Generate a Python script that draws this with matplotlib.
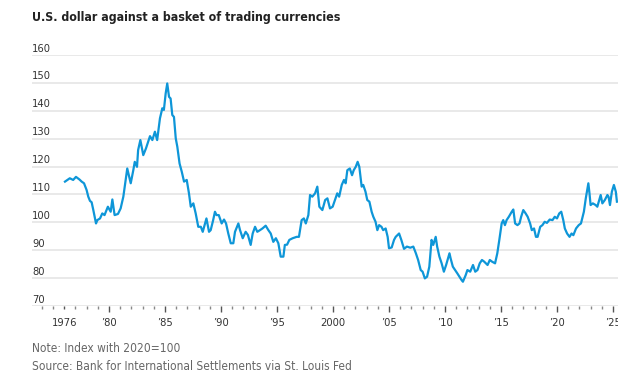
import matplotlib
matplotlib.use("Agg")
import matplotlib.pyplot as plt
from matplotlib.ticker import FixedLocator, MultipleLocator
from matplotlib import font_manager as fm

title = "U.S. dollar against a basket of trading currencies"
note = "Note: Index with 2020=100"
source = "Source: Bank for International Settlements via St. Louis Fed"

years = [
    1976.07, 1976.5, 1976.8, 1977.05, 1977.35, 1977.56, 1977.77, 1978.0, 1978.15, 1978.3,
    1978.45, 1978.6, 1978.84, 1978.96, 1979.2, 1979.4, 1979.6, 1979.9, 1980.15, 1980.3,
    1980.5, 1980.8, 1981.04, 1981.28, 1981.63, 1981.94, 1982.17, 1982.3, 1982.5, 1982.6,
    1982.8, 1983.06, 1983.3, 1983.66, 1983.87, 1984.1, 1984.3, 1984.55, 1984.76, 1984.9,
    1985.06, 1985.2, 1985.36, 1985.5, 1985.65, 1985.8, 1985.96, 1986.1, 1986.3, 1986.5,
    1986.7, 1986.94, 1987.14, 1987.3, 1987.53, 1987.74, 1987.97, 1988.2, 1988.37, 1988.57,
    1988.7, 1988.93, 1989.08, 1989.3, 1989.46, 1989.6, 1989.8, 1990.06, 1990.27, 1990.45,
    1990.65, 1990.87, 1991.1, 1991.25, 1991.55, 1991.7, 1991.94, 1992.2, 1992.4, 1992.65,
    1992.83, 1993.04, 1993.24, 1993.48, 1993.7, 1993.99, 1994.23, 1994.44, 1994.67, 1994.9,
    1995.12, 1995.33, 1995.57, 1995.7, 1995.9, 1996.1, 1996.4, 1996.76, 1996.96, 1997.2,
    1997.4, 1997.57, 1997.8, 1997.95, 1998.15, 1998.4, 1998.6, 1998.78, 1999.05, 1999.3,
    1999.5, 1999.73, 1999.97, 2000.18, 2000.38, 2000.55, 2000.78, 2000.98, 2001.13, 2001.28,
    2001.5, 2001.7, 2001.85, 2002.03, 2002.2, 2002.35, 2002.56, 2002.7, 2002.9, 2003.06,
    2003.25, 2003.45, 2003.6, 2003.8, 2003.96, 2004.12, 2004.33, 2004.48, 2004.7, 2004.88,
    2005.0, 2005.24, 2005.45, 2005.6, 2005.9, 2006.1, 2006.34, 2006.6, 2006.9, 2007.17,
    2007.4, 2007.6, 2007.83, 2008.0, 2008.2, 2008.4, 2008.6, 2008.8, 2008.95, 2009.17,
    2009.3, 2009.5, 2009.7, 2009.9, 2010.1, 2010.4, 2010.5, 2010.7, 2010.9, 2011.1,
    2011.48, 2011.6, 2011.85, 2012.0, 2012.25, 2012.5, 2012.7, 2012.9, 2013.1, 2013.3,
    2013.5, 2013.8, 2014.0, 2014.2, 2014.47, 2014.67, 2014.85, 2015.06, 2015.2, 2015.35,
    2015.5, 2015.7, 2015.96, 2016.1, 2016.26, 2016.47, 2016.65, 2016.8, 2016.99, 2017.2,
    2017.38, 2017.6, 2017.75, 2017.95, 2018.12, 2018.27, 2018.5, 2018.7, 2018.9, 2019.1,
    2019.35, 2019.6, 2019.8, 2020.0, 2020.2, 2020.38, 2020.56, 2020.7, 2020.9, 2021.12,
    2021.3, 2021.46, 2021.7, 2021.94, 2022.14, 2022.4, 2022.57, 2022.8, 2022.9, 2023.0,
    2023.2, 2023.45, 2023.6, 2023.9, 2024.05, 2024.27, 2024.5, 2024.6, 2024.73, 2024.9,
    2025.08, 2025.25, 2025.35,
]
index_values = [
    114.6, 115.8, 115.2, 116.3, 115.4, 114.6, 114.0, 111.6, 109.2, 107.7,
    107.2, 104.4, 99.6, 100.8, 101.4, 103.2, 102.6, 105.6, 103.8, 108.2,
    102.6, 103.0, 105.0, 109.2, 119.3, 114.0, 118.7, 121.7, 119.9, 125.9,
    129.5, 124.1, 126.5, 130.9, 129.5, 132.5, 129.5, 137.3, 140.9, 140.3,
    146.2, 149.8, 145.0, 144.4, 138.5, 137.8, 130.1, 127.1, 121.1, 118.1,
    114.6, 115.2, 110.4, 105.6, 106.8, 103.2, 98.4, 98.4, 96.6, 99.6,
    101.4, 96.6, 97.2, 100.8, 103.8, 102.6, 102.6, 99.6, 101.0, 99.6,
    96.0, 92.5, 92.5, 96.6, 99.6, 97.2, 94.3, 96.6, 95.5, 91.9,
    96.0, 98.4, 96.6, 97.2, 97.8, 98.8, 97.2, 96.0, 93.0, 94.3,
    92.5, 87.7, 87.7, 91.9, 92.0, 93.7, 94.3, 94.8, 94.8, 100.8,
    101.4, 99.6, 102.6, 109.8, 109.2, 110.4, 112.8, 105.6, 104.4, 108.0,
    108.6, 105.0, 105.6, 108.0, 110.4, 109.2, 113.4, 115.2, 114.0, 118.7,
    119.3, 116.9, 118.7, 119.9, 121.7, 119.9, 112.8, 113.4, 111.0, 108.0,
    107.4, 103.8, 102.0, 100.2, 97.2, 99.0, 98.4, 97.2, 97.8, 94.8,
    90.7, 91.0, 93.7, 94.8, 96.0, 93.7, 90.5, 91.3, 90.9, 91.3,
    88.9, 86.5, 82.9, 82.3, 79.9, 80.5, 84.1, 93.7, 91.9, 94.8,
    91.3, 87.7, 85.3, 82.3, 84.7, 88.9, 87.1, 84.1, 82.9, 81.7,
    79.3, 78.7, 81.1, 82.9, 82.3, 84.7, 82.3, 82.9, 85.3, 86.5,
    85.9, 84.7, 86.5, 85.9, 85.3, 88.9, 93.7, 99.6, 100.8, 99.0,
    100.8, 102.0, 103.8, 104.6, 99.6, 99.0, 99.6, 102.0, 104.4, 103.2,
    102.0, 99.6, 97.2, 97.8, 94.8, 94.8, 98.4, 99.0, 100.2, 99.8,
    101.0, 100.8, 102.0, 101.4, 103.2, 103.8, 100.8, 97.8, 96.0, 94.8,
    96.0, 95.4, 97.8, 99.0, 99.6, 103.8, 108.6, 114.0, 110.4, 106.2,
    106.8, 106.2, 105.6, 109.8, 106.8, 108.0, 109.8, 109.2, 106.2, 111.0,
    113.4, 111.0, 107.4,
]

y_ticks = [70, 80, 90, 100, 110, 120, 130, 140, 150, 160]
x_label_years = [1976, 1980, 1985, 1990, 1995, 2000, 2005, 2010, 2015, 2020, 2025]
x_labels = ["1976", "\u201980", "\u201985", "\u201990", "\u201995", "2000",
            "\u201905", "\u201910", "\u201915", "\u201920", "\u201925"]

# pick a condensed face if one exists, otherwise a narrow-ish family
names = {f.name for f in fm.fontManager.ttflist}
cond = [f for f in fm.fontManager.ttflist
        if f.name == "DejaVu Sans" and str(f.stretch) in ("condensed", "semi-condensed")]
if "Liberation Sans Narrow" in names:
    FONT, STRETCH, SCALE = ["Liberation Sans Narrow", "DejaVu Sans"], "normal", 1.08
elif cond:
    FONT, STRETCH, SCALE = ["DejaVu Sans", "DejaVu Sans"], "condensed", 1.0
else:
    FONT, STRETCH, SCALE = ["Roboto", "DejaVu Sans"], "normal", 0.93
plt.rcParams["font.family"] = FONT
plt.rcParams["font.stretch"] = STRETCH

TICK_FS = 8.0 * SCALE
TITLE_FS = 8.9 * SCALE
NOTE_FS = 8.55 * SCALE

W, H = 618, 381
fig = plt.figure(figsize=(W / 100, H / 100), dpi=100)
left, right, top_px, bot_px = 32, 618, 55, 306
ax = fig.add_axes([left / W, 1 - bot_px / H, (right - left) / W, (bot_px - top_px) / H])

ax.plot(years, index_values, color="#0e96d8", lw=1.6, solid_joinstyle="round", zorder=3)

ax.set_xlim(1976 - 32.2 / 11.2, 1976 + (618 - 64.2) / 11.2)
ax.set_ylim(70, 160)

for s in ax.spines.values():
    s.set_visible(False)

ax.set_yticks(y_ticks)
ax.yaxis.grid(True, color="#e3e3e3", lw=1.1)
ax.tick_params(axis="y", length=0, labelleft=False)
for v in y_ticks:
    ax.text(0, v + 0.5, str(v), transform=ax.get_yaxis_transform(), ha="left", va="bottom",
            fontsize=TICK_FS, color="#333333", fontstretch=STRETCH)

ax.xaxis.set_major_locator(FixedLocator(x_label_years))
ax.set_xticklabels(x_labels, fontstretch=STRETCH)
ax.xaxis.set_minor_locator(MultipleLocator(1))
ax.tick_params(axis="x", which="major", length=4.5, width=1.0, color="#555555",
               labelsize=TICK_FS, labelcolor="#333333", pad=4.5)
ax.tick_params(axis="x", which="minor", length=1.8, width=1.0, color="#888888")
ax.xaxis.get_major_ticks()[0].tick1line.set_markersize(1.8)
ax.xaxis.get_major_ticks()[0].tick1line.set_color("#888888")

fig.text(32 / W, 1 - 18 / H, title, ha="left", va="center", fontsize=TITLE_FS,
         fontweight="bold", color="#222222", fontstretch=STRETCH)
fig.text(32 / W, 1 - 348 / H, note, ha="left", va="center", fontsize=NOTE_FS,
         color="#666666", fontstretch=STRETCH)
fig.text(32 / W, 1 - 366 / H, source, ha="left", va="center", fontsize=NOTE_FS,
         color="#666666", fontstretch=STRETCH)

fig.savefig("out.png", dpi=100)
